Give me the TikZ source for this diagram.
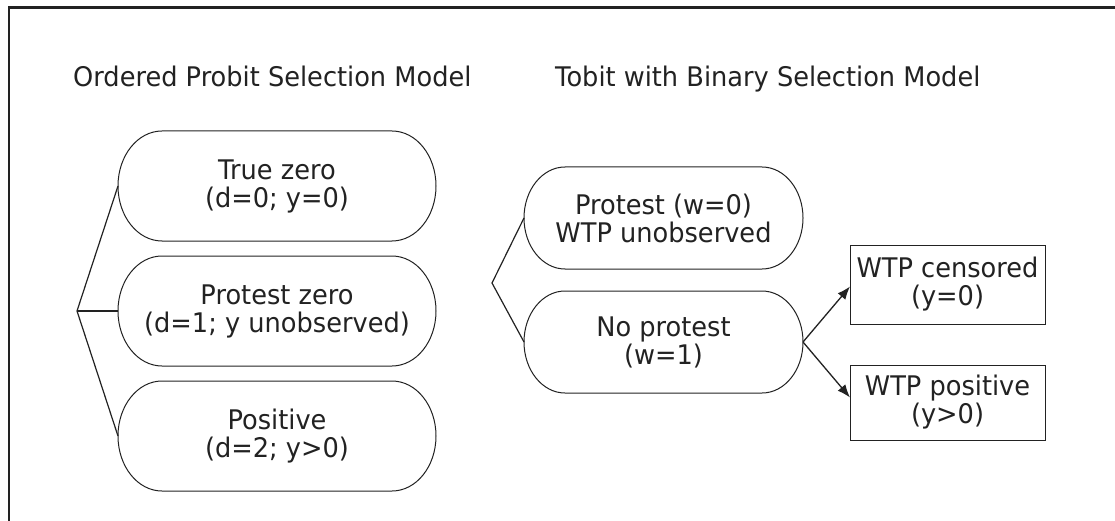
\documentclass[tikz,border=0pt]{standalone}
\usepackage{fontspec}
\setmainfont{DejaVu Sans}[FakeStretch=0.95]
\usetikzlibrary{arrows.meta}
\definecolor{ink}{HTML}{222222}
\newcommand\stadline[3]{%
  \draw[shapeline] ([xshift=#2pt]#1.north west) -- ([xshift=-#2pt]#1.north east)
    arc[start angle=90,end angle=-90,x radius=#2pt,y radius=#3pt]
    -- ([xshift=#2pt]#1.south west)
    arc[start angle=270,end angle=90,x radius=#2pt,y radius=#3pt] -- cycle;}
\begin{document}
\begin{tikzpicture}[x=1pt,y=1pt,
  every node/.style={font=\fontsize{27}{28}\selectfont, text=ink},
  shapeline/.style={draw=ink, line width=1pt},
  stadbox/.style={align=center, inner sep=0pt, outer sep=0pt},
  rectbox/.style={draw=ink, line width=1pt, align=center, inner sep=0pt, outer sep=0pt},
  conn/.style={draw=ink, line width=1.2pt},
  arr/.style={draw=ink, line width=1.3pt, -{Latex[length=13pt,width=10pt]}},
  titletext/.style={anchor=base west, inner sep=0pt}]
\useasboundingbox (0,0) rectangle (1115,-521);
\fill[white] (0,0) rectangle (1115,-521);
% frame
\draw[draw=ink, line width=2.5pt] (9,-521) -- (9,-7.5) -- (1115,-7.5);
% titles
\node[titletext] (t1) at (73,-87) {Ordered Probit Selection Model};
\node[titletext] (t2) at (555,-87) {Tobit with Binary Selection Model};
% left stadiums
\node[stadbox, minimum width=318pt, minimum height=110pt] (tz) at (277,-186) {True zero\\(d=0; y=0)};
\node[stadbox, minimum width=318pt, minimum height=110pt] (pz) at (277,-311) {Protest zero\\(d=1; y unobserved)};
\node[stadbox, minimum width=318pt, minimum height=110pt] (po) at (277,-436) {Positive\\(d=2; y>0)};
\stadline{tz}{44}{55}
\stadline{pz}{44}{55}
\stadline{po}{44}{55}
\coordinate (v1) at (77,-311);
\draw[conn] (tz.west) -- (v1) -- (po.west);
\draw[conn] (v1) -- (pz.west);
% right stadiums
\node[stadbox, minimum width=279pt, minimum height=102pt] (pw) at (663.5,-218) {Protest (w=0)\\WTP unobserved};
\node[stadbox, minimum width=279pt, minimum height=102pt] (np) at (663.5,-342) {No protest\\(w=1)};
\stadline{pw}{41}{51}
\stadline{np}{41}{51}
\coordinate (v2) at (492,-283);
\draw[conn] (pw.west) -- (v2) -- (np.west);
% rectangles
\node[rectbox, minimum width=195pt, minimum height=79pt] (wc) at (947.5,-284.5) {WTP censored\\(y=0)};
\node[rectbox, minimum width=195pt, minimum height=75pt] (wp) at (947.5,-402.5) {WTP positive\\(y>0)};
\draw[arr] (np.east) -- ([yshift=-2pt]wc.west);
\draw[arr] (np.east) -- ([yshift=5pt]wp.west);
\end{tikzpicture}
\end{document}
